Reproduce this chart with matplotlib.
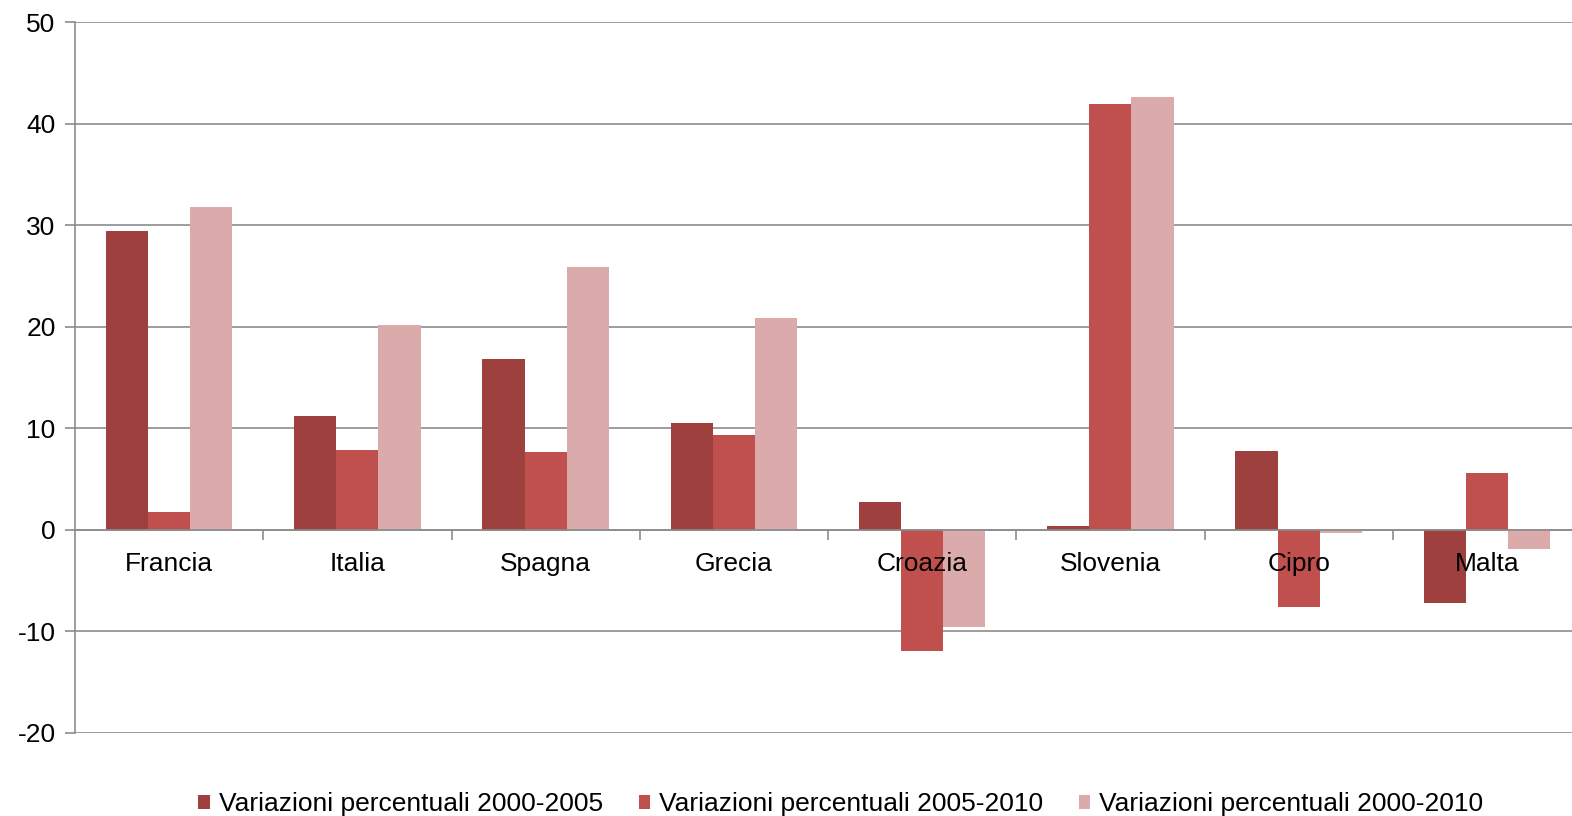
import matplotlib.pyplot as plt
import numpy as np
from matplotlib.patches import Patch

plt.rcParams['font.family'] = ['Liberation Sans', 'DejaVu Sans']
plt.rcParams['axes.unicode_minus'] = False

paesi = ['Francia', 'Italia', 'Spagna', 'Grecia', 'Croazia', 'Slovenia', 'Cipro', 'Malta']
var_00_05 = [29.4, 11.2, 16.8, 10.5, 2.7, 0.4, 7.8, -7.2]
var_05_10 = [1.8, 7.9, 7.7, 9.3, -11.9, 41.9, -7.6, 5.6]
var_00_10 = [31.8, 20.2, 25.9, 20.9, -9.6, 42.6, -0.3, -1.9]
serie = ['Variazioni percentuali 2000-2005', 'Variazioni percentuali 2005-2010',
         'Variazioni percentuali 2000-2010']
colori = ['#9E403E', '#C0504D', '#DBAAAA']

fig = plt.figure(figsize=(15.72, 8.16), dpi=100)
# l'area del grafico prosegue oltre il bordo destro, come nell'originale
ax = fig.add_axes([75/1572, 1 - 733/816, 1506/1572, 711/816])

x = np.arange(len(paesi))
w = 0.224
for k, vals in enumerate([var_00_05, var_05_10, var_00_10]):
    ax.bar(x + (k - 1)*w, vals, w, color=colori[k], zorder=3)

ax.set_xlim(-0.5, len(paesi) - 0.5)
ax.set_ylim(-20, 50)
ax.set_yticks(np.arange(-20, 51, 10))
ax.yaxis.grid(True, color='#8c8c8c', linewidth=1.2, zorder=0)
ax.tick_params(axis='y', labelsize=19, length=7, color='#8c8c8c', width=1.2, pad=7)

# asse x sullo zero, tacche tra i gruppi
ax.spines['bottom'].set_position(('data', 0))
ax.spines['bottom'].set_color('#8c8c8c')
ax.spines['bottom'].set_linewidth(1.2)
ax.spines['bottom'].set_zorder(4)
ax.spines['left'].set_color('#8c8c8c')
ax.spines['left'].set_linewidth(1.2)
ax.spines['top'].set_visible(False)
ax.spines['right'].set_visible(False)
ax.set_xticks(np.arange(0.5, len(paesi) - 0.5))
ax.set_xticklabels([])
ax.set_xticks(x, minor=True)
ax.set_xticklabels(paesi, minor=True)
ax.tick_params(axis='x', which='major', length=7, color='#8c8c8c', width=1.2, direction='out')
ax.tick_params(axis='x', which='minor', length=0, labelsize=19, pad=16)
ax.xaxis.set_zorder(5)

handles = [Patch(facecolor=c) for c in colori]
fig.legend(handles, serie, loc='center', bbox_to_anchor=(841/1572, 1 - 804/816), ncol=3,
           frameon=False, fontsize=19, handlelength=0.45, handleheight=0.45,
           handletextpad=0.34, columnspacing=1.33)

fig.savefig('out.png', dpi=100)
